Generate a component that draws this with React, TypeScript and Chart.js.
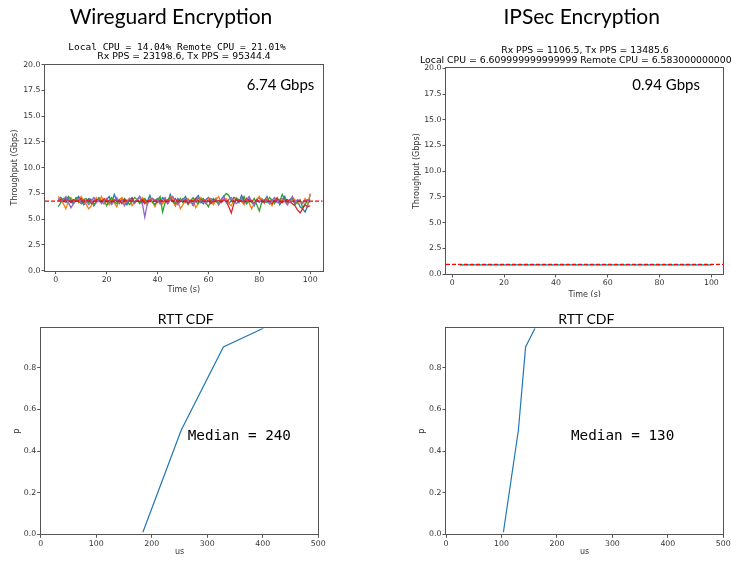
import React, { useEffect, useRef } from "react";
import { Chart, registerables } from "chart.js";

Chart.register(...registerables);
Chart.defaults.font.family = "'DejaVu Sans'";

// ---------- Data ----------
const WG_TIME_START = 1;
const WG_BLUE = [
  6.9, 7.1, 6.8, 6.6, 7.0, 6.7, 6.5, 6.9, 7.2, 6.8, 6.4, 6.6, 7.0, 6.9, 6.3, 6.7, 7.1, 6.8, 6.5, 6.9,
  7.2, 6.6, 7.4, 6.8, 6.5, 7.0, 6.7, 6.4, 6.9, 7.1, 6.6, 6.8, 7.2, 6.5, 6.9, 6.7, 7.3, 6.6, 6.8, 7.0,
  6.5, 7.1, 6.9, 6.6, 7.4, 6.8, 6.3, 7.0, 6.7, 6.9, 7.2, 6.6, 6.8, 6.4, 7.0, 7.3, 6.7, 6.5, 6.9, 7.1,
  6.8, 6.6, 7.0, 6.4, 6.9, 7.2, 6.7, 6.5, 6.8, 7.1, 6.9, 6.6, 7.3, 6.8, 6.5, 7.0, 6.7, 6.3, 6.9, 7.1,
  6.6, 6.8, 7.2, 6.5, 6.9, 6.7, 7.0, 6.4, 6.8, 7.2, 6.6, 6.9, 7.1, 6.5, 6.8, 6.2, 6.0, 5.7, 6.3, 7.4,
];
const WG_ORANGE = [
  7.2, 6.9, 6.5, 6.0, 6.8, 7.1, 6.7, 7.0, 6.6, 7.2, 6.8, 6.4, 6.0, 6.3, 6.9, 7.1, 6.7, 7.2, 6.5, 6.8,
  6.4, 7.0, 6.6, 6.2, 6.9, 7.1, 6.5, 6.8, 7.0, 6.3, 6.7, 6.9, 6.6, 7.1, 6.8, 6.4, 7.0, 6.7, 6.2, 6.9,
  7.1, 6.5, 6.8, 6.6, 7.2, 6.9, 6.3, 6.7, 6.0, 6.4, 6.8, 7.0, 6.6, 6.9, 6.1, 6.5, 7.1, 6.8, 6.6, 7.0,
  6.7, 6.4, 6.9, 7.2, 6.6, 6.8, 7.0, 6.5, 6.3, 6.9, 7.1, 6.7, 6.8, 6.4, 7.0, 6.6, 6.0, 6.5, 6.9, 7.2,
  6.8, 6.5, 7.0, 6.7, 6.3, 6.9, 7.1, 6.6, 6.8, 7.0, 6.4, 6.7, 7.1, 6.9, 6.5, 6.8, 6.6, 7.0, 6.4, 7.5,
];
const WG_GREEN = [
  6.2, 6.6, 7.0, 6.8, 7.2, 6.9, 6.6, 7.1, 6.7, 6.5, 6.9, 7.0, 6.6, 6.8, 6.4, 6.7, 7.0, 6.6, 6.9, 6.3,
  6.8, 7.1, 6.7, 6.5, 6.9, 6.6, 7.0, 6.8, 6.4, 6.7, 7.1, 6.9, 6.5, 6.8, 7.0, 6.6, 6.9, 6.7, 6.4, 6.8,
  7.2, 5.7, 6.6, 6.9, 7.1, 6.7, 6.5, 6.8, 7.0, 6.6, 6.9, 6.4, 6.8, 7.1, 6.7, 6.5, 6.9, 7.0, 6.6, 6.2,
  6.8, 7.0, 6.7, 6.5, 6.9, 7.2, 7.5, 7.3, 6.8, 6.6, 7.0, 6.9, 6.7, 7.2, 6.5, 6.8, 6.6, 7.0, 6.4, 5.8,
  6.7, 6.9, 6.6, 7.1, 6.8, 6.5, 7.0, 6.7, 7.4, 6.9, 6.6, 6.8, 7.0, 6.4, 6.7, 6.9, 6.1, 6.5, 6.8, 6.9,
];
const WG_RED = [
  6.8, 6.9, 6.7, 7.0, 6.8, 6.6, 6.9, 6.7, 6.8, 7.0, 6.6, 6.8, 6.9, 6.5, 6.7, 6.9, 6.8, 6.6, 7.0, 6.7,
  6.8, 6.6, 6.9, 6.7, 6.8, 6.5, 6.9, 6.7, 6.8, 7.0, 6.6, 6.8, 6.7, 6.9, 6.5, 6.8, 6.7, 7.0, 6.8, 6.6,
  6.9, 6.7, 6.8, 6.5, 6.9, 6.7, 7.0, 6.6, 6.8, 6.7, 6.9, 6.5, 6.8, 6.7, 7.0, 6.8, 6.6, 6.9, 6.7, 6.8,
  6.5, 6.9, 6.7, 6.8, 6.6, 6.9, 6.7, 6.2, 5.6, 6.5, 6.9, 6.7, 6.8, 6.6, 7.0, 6.7, 6.8, 6.5, 6.9, 6.7,
  6.8, 6.6, 6.9, 6.7, 6.5, 6.8, 7.0, 6.7, 6.6, 6.8, 6.9, 6.7, 6.5, 6.3, 5.9, 5.6, 6.0, 6.4, 6.2, 6.3,
];
const WG_PURPLE = [
  7.0, 6.7, 6.9, 7.2, 6.6, 6.1, 6.5, 6.8, 7.0, 6.6, 6.9, 6.7, 6.4, 6.8, 7.1, 6.6, 6.9, 6.5, 6.8, 7.0,
  6.7, 6.4, 6.8, 7.1, 6.6, 6.9, 6.3, 6.7, 7.0, 6.8, 6.5, 6.9, 7.2, 6.6, 5.2, 6.5, 6.8, 7.0, 6.7, 6.9,
  6.6, 6.8, 7.1, 6.5, 6.9, 7.2, 6.7, 6.4, 6.8, 7.0, 6.6, 6.9, 6.7, 6.3, 6.8, 7.1, 6.6, 6.9, 6.5, 6.8,
  7.0, 6.7, 6.9, 6.4, 6.8, 7.2, 6.6, 6.9, 7.1, 6.7, 6.5, 6.8, 7.0, 6.6, 6.9, 7.2, 6.7, 6.4, 6.8, 6.6,
  7.0, 6.7, 6.9, 6.5, 6.8, 7.1, 6.6, 6.9, 7.0, 6.7, 6.4, 6.8, 7.2, 6.6, 6.9, 6.7, 6.5, 6.8, 6.9, 6.6,
];
const WG_MEAN = 6.74;

const IPSEC_TIME_START = 3;
const IPSEC_BLUE = [
  0.90, 0.91, 0.90, 0.90, 0.89, 0.90, 0.91, 0.90, 0.90, 0.91,
  0.90, 0.89, 0.90, 0.90, 0.91, 0.90, 0.90, 0.89, 0.90, 0.91,
  0.90, 0.90, 0.91, 0.90, 0.89, 0.90, 0.90, 0.91, 0.90, 0.90,
  0.89, 0.90, 0.91, 0.90, 0.90, 0.90, 0.91, 0.89, 0.90, 0.90,
  0.91, 0.90, 0.90, 0.89, 0.90, 0.91, 0.90, 0.90, 0.90, 0.89,
  0.90, 0.91, 0.90, 0.90, 0.91, 0.90, 0.89, 0.90, 0.90, 0.91,
  0.90, 0.90, 0.89, 0.90, 0.91, 0.90, 0.90, 0.90, 0.91, 0.89,
  0.90, 0.90, 0.91, 0.90, 0.90, 0.89, 0.90, 0.91, 0.90, 0.90,
  0.90, 0.91, 0.89, 0.90, 0.90, 0.91, 0.90, 0.90, 0.89, 0.90,
  0.91, 0.90, 0.90, 0.90, 0.89, 0.91, 0.90, 0.90,
];
const IPSEC_CYAN = [
  0.91, 0.90, 0.91, 0.92, 0.91, 0.90, 0.91, 0.91, 0.92, 0.90,
  0.91, 0.91, 0.90, 0.92, 0.91, 0.91, 0.90, 0.91, 0.92, 0.91,
  0.90, 0.91, 0.91, 0.92, 0.91, 0.90, 0.91, 0.91, 0.90, 0.92,
  0.91, 0.91, 0.90, 0.91, 0.92, 0.91, 0.90, 0.91, 0.91, 0.92,
  0.90, 0.91, 0.91, 0.92, 0.91, 0.90, 0.91, 0.92, 0.91, 0.91,
  0.90, 0.91, 0.92, 0.91, 0.90, 0.91, 0.91, 0.92, 0.91, 0.90,
  0.91, 0.92, 0.91, 0.91, 0.90, 0.91, 0.92, 0.91, 0.90, 0.91,
  0.91, 0.92, 0.90, 0.91, 0.91, 0.92, 0.91, 0.90, 0.91, 0.91,
  0.92, 0.91, 0.90, 0.91, 0.91, 0.92, 0.91, 0.90, 0.91, 0.92,
  0.91, 0.90, 0.91, 0.91, 0.92, 0.90, 0.91, 0.91,
];
const IPSEC_MEAN = 0.94;

const CDF_WG_US = [184, 253, 329, 401];
const CDF_IPSEC_US = [103.5, 130.5, 143.5, 160.5];
const CDF_P = [0.01, 0.5, 0.9, 0.99];

const TPUT_Y_TICKS = [0, 2.5, 5, 7.5, 10, 12.5, 15, 17.5, 20];
const TIME_X_TICKS = [0, 20, 40, 60, 80, 100];
const CDF_X_TICKS = [0, 100, 200, 300, 400, 500];
const CDF_Y_TICKS = [0, 0.2, 0.4, 0.6, 0.8];

// ---------- Styling ----------
const C0 = "#1f77b4";
const C1 = "#ff7f0e";
const C2 = "#2ca02c";
const C3 = "#d62728";
const C4 = "#9467bd";
const C9 = "#17becf";
const TEXT = "#333333";
const FRAME = "#555555";

const framePlugin = {
  id: "frame",
  afterDatasetsDraw(chart: any) {
    const { ctx, chartArea: a } = chart;
    const l = Math.round(a.left) - 0.5;
    const t = Math.round(a.top) - 0.5;
    const r = Math.round(a.right) + 0.5;
    const b = Math.round(a.bottom) + 0.5;
    ctx.save();
    ctx.strokeStyle = FRAME;
    ctx.lineWidth = 1;
    ctx.strokeRect(l, t, r - l, b - t);
    ctx.restore();
  },
};

const toPoints = (vals: number[], start: number) => vals.map((y, i) => ({ x: start + i, y }));

type Box = { left: number; top: number; width: number; height: number };
type Plot = { l: number; t: number; r: number; b: number };

type PanelProps = {
  box: Box;
  plot: Plot;
  datasets: any[];
  xMin: number;
  xMax: number;
  xTicks: number[];
  xFmt: (v: number) => string;
  yMin: number;
  yMax: number;
  yTicks: number[];
  yFmt: (v: number) => string;
  xTitle: string;
  yTitle: string;
};

function Panel(p: PanelProps) {
  const ref = useRef<HTMLCanvasElement>(null);
  useEffect(() => {
    const yWidth = p.plot.l - p.box.left;
    const xHeight = p.box.top + p.box.height - p.plot.b;
    const tickFont = { size: 7.8, family: "'DejaVu Sans'" };
    const titleFont = { size: 8, family: "'DejaVu Sans'" };
    const grid = {
      drawOnChartArea: false,
      drawTicks: true,
      tickLength: 3.5,
      color: FRAME,
      lineWidth: 1,
    };
    const chart = new Chart(ref.current as HTMLCanvasElement, {
      type: "line",
      data: { datasets: p.datasets },
      plugins: [framePlugin],
      options: {
        animation: false,
        responsive: false,
        maintainAspectRatio: false,
        layout: {
          padding: {
            left: 0,
            top: p.plot.t - p.box.top,
            right: p.box.left + p.box.width - p.plot.r,
            bottom: 0,
          },
        },
        plugins: { legend: { display: false }, tooltip: { enabled: false }, title: { display: false } },
        elements: { point: { radius: 0 }, line: { tension: 0 } },
        scales: {
          x: {
            type: "linear",
            min: p.xMin,
            max: p.xMax,
            afterBuildTicks: (s: any) => {
              s.ticks = p.xTicks.map((v) => ({ value: v }));
            },
            afterFit: (s: any) => {
              s.height = xHeight;
            },
            ticks: {
              autoSkip: false,
              maxRotation: 0,
              padding: 1,
              color: TEXT,
              font: tickFont,
              callback: (v: any) => p.xFmt(Number(v)),
            },
            grid,
            border: { display: false },
            title: { display: true, text: p.xTitle, color: TEXT, font: titleFont, padding: { top: 2, bottom: 4 } },
          },
          y: {
            type: "linear",
            min: p.yMin,
            max: p.yMax,
            afterBuildTicks: (s: any) => {
              s.ticks = p.yTicks.map((v) => ({ value: v }));
            },
            afterFit: (s: any) => {
              s.width = yWidth;
            },
            ticks: {
              autoSkip: false,
              padding: 1,
              color: TEXT,
              font: tickFont,
              callback: (v: any) => p.yFmt(Number(v)),
            },
            grid,
            border: { display: false },
            title: { display: true, text: p.yTitle, color: TEXT, font: titleFont, padding: { top: 4, bottom: 2 } },
          },
        },
      } as any,
    });
    return () => chart.destroy();
  }, []);
  return (
    <canvas
      ref={ref}
      width={p.box.width}
      height={p.box.height}
      style={{ position: "absolute", left: p.box.left, top: p.box.top, width: p.box.width, height: p.box.height }}
    />
  );
}

const lineDs = (vals: number[], start: number, color: string, order: number) => ({
  data: toPoints(vals, start),
  borderColor: color,
  borderWidth: 1.3,
  pointRadius: 0,
  fill: false,
  order,
});

const meanDs = (mean: number, xMin: number, xMax: number) => ({
  data: [
    { x: xMin, y: mean },
    { x: xMax, y: mean },
  ],
  borderColor: "#ff0000",
  borderWidth: 1.3,
  borderDash: [4, 2],
  pointRadius: 0,
  fill: false,
  order: 0,
});

const cdfDs = (us: number[]) => ({
  data: us.map((x, i) => ({ x, y: CDF_P[i] })),
  borderColor: C0,
  borderWidth: 1.2,
  pointRadius: 0,
  fill: false,
});

const fmt1 = (v: number) => v.toFixed(1);
const fmt0 = (v: number) => String(Math.round(v));

const WG_X_MIN = -4.2;
const WG_X_MAX = 104.9;
const IP_X_MIN = -2.4;
const IP_X_MAX = 104.6;

type TextProps = {
  text: string;
  left: number;
  top: number;
  size: number;
  family: string;
  center?: boolean;
  width?: number;
  lh: number;
  color?: string;
};

function Txt(t: TextProps) {
  const w = t.width ?? 400;
  const style: React.CSSProperties = {
    position: "absolute",
    left: t.center ? t.left - w / 2 : t.left,
    top: t.top,
    width: t.center ? w : undefined,
    textAlign: t.center ? "center" : "left",
    fontFamily: t.family,
    fontSize: t.size,
    lineHeight: `${t.lh * t.size}px`,
    whiteSpace: "pre",
    color: t.color ?? "#000",
  };
  return <div style={style}>{t.text}</div>;
}

const LATO = "Lato, 'Open Sans', sans-serif";
const MONO = "'DejaVu Sans Mono', monospace";
const SANS = "'DejaVu Sans', sans-serif";

export default function App() {
  return (
    <div
      style={{
        position: "absolute",
        left: 0,
        top: 0,
        width: 731,
        height: 561,
        overflow: "hidden",
        background: "#fff",
      }}
    >
      {/* Top-left: Wireguard throughput */}
      <Panel
        box={{ left: 6, top: 56, width: 326, height: 243 }}
        plot={{ l: 45, t: 64.5, r: 322.7, b: 270.7 }}
        datasets={[
          meanDs(WG_MEAN, WG_X_MIN, WG_X_MAX),
          lineDs(WG_PURPLE, WG_TIME_START, C4, 1),
          lineDs(WG_RED, WG_TIME_START, C3, 2),
          lineDs(WG_GREEN, WG_TIME_START, C2, 3),
          lineDs(WG_ORANGE, WG_TIME_START, C1, 4),
          lineDs(WG_BLUE, WG_TIME_START, C0, 5),
        ]}
        xMin={WG_X_MIN}
        xMax={WG_X_MAX}
        xTicks={TIME_X_TICKS}
        xFmt={fmt0}
        yMin={0}
        yMax={20}
        yTicks={TPUT_Y_TICKS}
        yFmt={fmt1}
        xTitle="Time (s)"
        yTitle="Throughput (Gbps)"
      />

      {/* Top-right: IPSec throughput (clipped at the bottom like the reference) */}
      <div style={{ position: "absolute", left: 0, top: 0, width: 731, height: 297, overflow: "hidden" }}>
        <Panel
          box={{ left: 408, top: 60, width: 332, height: 244 }}
          plot={{ l: 446, t: 68.3, r: 723.3, b: 274 }}
          datasets={[
            meanDs(IPSEC_MEAN, IP_X_MIN, IP_X_MAX),
            lineDs(IPSEC_CYAN, IPSEC_TIME_START, C9, 1),
            lineDs(IPSEC_BLUE, IPSEC_TIME_START, C0, 2),
          ]}
          xMin={IP_X_MIN}
          xMax={IP_X_MAX}
          xTicks={TIME_X_TICKS}
          xFmt={fmt0}
          yMin={0}
          yMax={20}
          yTicks={TPUT_Y_TICKS}
          yFmt={fmt1}
          xTitle="Time (s)"
          yTitle="Throughput (Gbps)"
        />
      </div>

      {/* Bottom-left: Wireguard RTT CDF */}
      <Panel
        box={{ left: 8, top: 320, width: 322, height: 241 }}
        plot={{ l: 40.7, t: 328.3, r: 318.3, b: 534.3 }}
        datasets={[cdfDs(CDF_WG_US)]}
        xMin={0}
        xMax={500}
        xTicks={CDF_X_TICKS}
        xFmt={fmt0}
        yMin={0}
        yMax={0.99}
        yTicks={CDF_Y_TICKS}
        yFmt={fmt1}
        xTitle="us"
        yTitle="p"
      />

      {/* Bottom-right: IPSec RTT CDF */}
      <Panel
        box={{ left: 413, top: 320, width: 327, height: 241 }}
        plot={{ l: 446, t: 328.3, r: 723.3, b: 534.3 }}
        datasets={[cdfDs(CDF_IPSEC_US)]}
        xMin={0}
        xMax={500}
        xTicks={CDF_X_TICKS}
        xFmt={fmt0}
        yMin={0}
        yMax={0.99}
        yTicks={CDF_Y_TICKS}
        yFmt={fmt1}
        xTitle="us"
        yTitle="p"
      />

      {/* Headings and annotations */}
      <Txt text="Wireguard Encryption" left={171} top={2.6} size={21} family={LATO} center lh={1.2} />
      <Txt text="IPSec Encryption" left={581.7} top={2.6} size={21} family={LATO} center lh={1.2} />

      <Txt text="Local CPU = 14.04% Remote CPU = 21.01%" left={177} top={41.2} size={9.5} family={MONO} center lh={1.164} />
      <Txt text="Rx PPS = 23198.6, Tx PPS = 95344.4" left={184} top={51.1} size={9.3} family={SANS} center lh={1.164} />

      <Txt text="Rx PPS = 1106.5, Tx PPS = 13485.6" left={585} top={45} size={9.3} family={SANS} center lh={1.164} />
      <Txt
        text="Local CPU = 6.609999999999999 Remote CPU = 6.583000000000001"
        left={584.7}
        top={55}
        size={9.3}
        family={SANS}
        center
        width={500}
        lh={1.164}
      />

      <Txt text="6.74 Gbps" left={246.7} top={74.5} size={15} family={LATO} lh={1.2} />
      <Txt text="0.94 Gbps" left={632.3} top={74.5} size={15} family={LATO} lh={1.2} />

      <Txt text="RTT CDF" left={185.7} top={311.2} size={14} family={LATO} center lh={1.2} />
      <Txt text="RTT CDF" left={586.3} top={311.2} size={14} family={LATO} center lh={1.2} />

      <Txt text="Median = 240" left={187.7} top={426.7} size={14.3} family={MONO} lh={1.164} />
      <Txt text="Median = 130" left={571} top={426.7} size={14.3} family={MONO} lh={1.164} />
    </div>
  );
}
